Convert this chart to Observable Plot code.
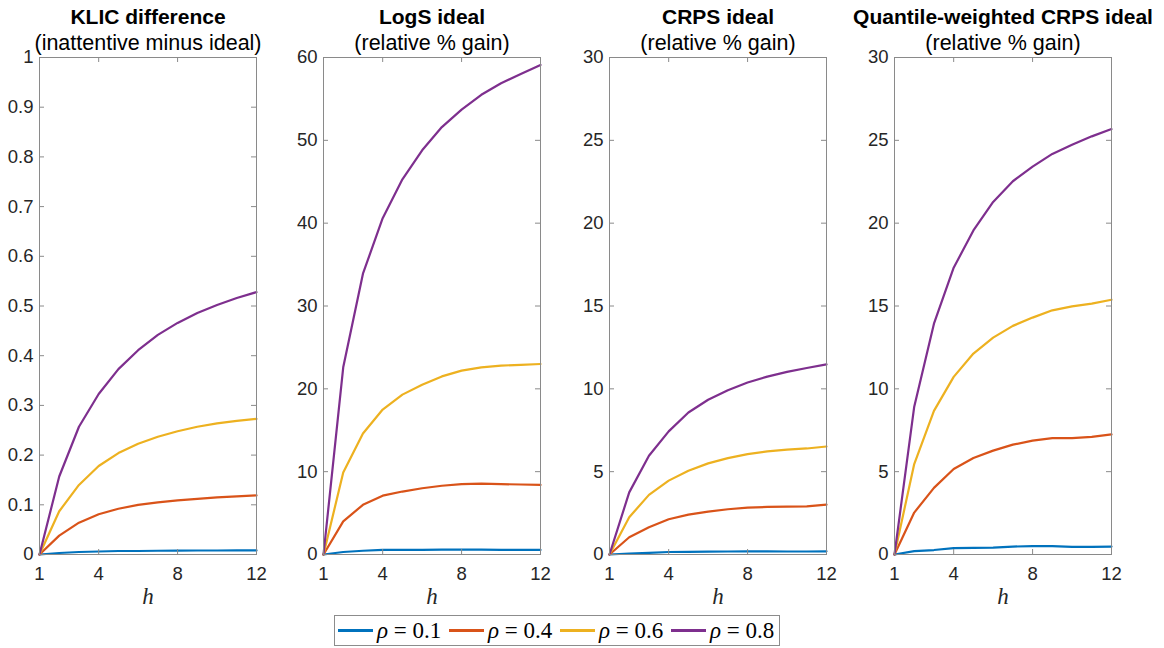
<!DOCTYPE html>
<html><head><meta charset="utf-8">
<script src="https://cdn.jsdelivr.net/npm/d3@7"></script>
<script src="https://cdn.jsdelivr.net/npm/@observablehq/plot@0.6"></script>
<style>
body{margin:0;background:#fff;}
#wrap{position:relative;width:1164px;height:648px;overflow:hidden;background:#fff;}
.panel{position:absolute;top:0;}
#legend{position:absolute;left:334px;top:615px;width:446px;height:31px;border:1px solid #8c8c8c;box-sizing:border-box;display:flex;align-items:center;font-family:"Liberation Serif",serif;font-size:23px;color:#000;background:#fff;white-space:nowrap;}
.sw{display:inline-block;width:35px;height:2.5px;margin-left:6px;margin-right:4px;}
.sw:first-child{margin-left:3px;}
.lt{display:inline-block;width:66px;}
.it{font-style:italic;}
</style></head>
<body><div id="wrap"></div>
<script>
const h = [1,2,3,4,5,6,7,8,9,10,11,12];
const xTicks = [1,4,8,12];
const rhoLabels = ["0.1","0.4","0.6","0.8"];
const colors = ["#0072BD","#D95319","#EDB120","#7E2F8E"];

const titles = ["KLIC difference","LogS ideal","CRPS ideal","Quantile-weighted CRPS ideal"];
const subtitles = ["(inattentive minus ideal)","(relative % gain)","(relative % gain)","(relative % gain)"];
const yMax = [1,60,30,30];
const yTicksKlic = [0,0.1,0.2,0.3,0.4,0.5,0.6,0.7,0.8,0.9,1];
const yTicksLogs = [0,10,20,30,40,50,60];
const yTicksCrps = [0,5,10,15,20,25,30];
const yTicksQw = [0,5,10,15,20,25,30];

// KLIC difference
const klic01 = [0,0.003,0.005,0.006,0.007,0.007,0.0075,0.0078,0.008,0.008,0.0082,0.0083];
const klic04 = [0,0.038,0.064,0.081,0.092,0.100,0.105,0.109,0.112,0.115,0.117,0.119];
const klic06 = [0,0.087,0.140,0.178,0.204,0.223,0.237,0.248,0.257,0.264,0.269,0.273];
const klic08 = [0,0.157,0.257,0.323,0.373,0.411,0.442,0.466,0.486,0.502,0.516,0.528];
// LogS ideal
const logs01 = [0,0.3,0.45,0.55,0.55,0.55,0.6,0.6,0.6,0.55,0.55,0.55];
const logs04 = [0,4.0,6.0,7.1,7.6,8.0,8.3,8.5,8.55,8.5,8.45,8.4];
const logs06 = [0,9.9,14.6,17.5,19.3,20.5,21.5,22.2,22.6,22.8,22.9,23.0];
const logs08 = [0,22.6,33.9,40.6,45.3,48.8,51.6,53.7,55.5,56.9,58.0,59.1];
// CRPS ideal
const crps01 = [0,0.06,0.1,0.15,0.16,0.17,0.18,0.19,0.19,0.18,0.18,0.19];
const crps04 = [0,1.04,1.65,2.13,2.41,2.59,2.73,2.83,2.87,2.89,2.91,3.01];
const crps06 = [0,2.25,3.6,4.46,5.06,5.5,5.82,6.06,6.22,6.33,6.4,6.52];
const crps08 = [0,3.75,5.96,7.43,8.57,9.34,9.92,10.38,10.74,11.02,11.26,11.48];
// Quantile-weighted CRPS ideal
const qw01 = [0,0.2,0.27,0.38,0.4,0.42,0.48,0.5,0.5,0.46,0.46,0.48];
const qw04 = [0,2.53,4.02,5.16,5.82,6.27,6.63,6.87,7.03,7.03,7.1,7.25];
const qw06 = [0,5.46,8.67,10.72,12.13,13.09,13.8,14.3,14.74,14.98,15.14,15.38];
const qw08 = [0,8.92,13.93,17.31,19.56,21.28,22.53,23.41,24.18,24.74,25.24,25.68];

const panels = [
  {series:[klic01,klic04,klic06,klic08], yTicks:yTicksKlic},
  {series:[logs01,logs04,logs06,logs08], yTicks:yTicksLogs},
  {series:[crps01,crps04,crps06,crps08], yTicks:yTicksCrps},
  {series:[qw01,qw04,qw06,qw08], yTicks:yTicksQw}
];
const lefts = [0,284,570,855];
const FW = 217, ML = 39, MR = 45, MT = 57, MB = 94, H = 648;
const FH = H - MT - MB;
const axisCol = "#8a8a8a";

const wrap = document.getElementById("wrap");
panels.forEach((p, i) => {
  const rows = [];
  p.series.forEach((s, k) => s.forEach((v, j) => rows.push({h: h[j], v, rho: rhoLabels[k]})));
  const inner = p.yTicks.filter(t => t > 0 && t < yMax[i]);
  const innerX = xTicks.filter(t => t > 1 && t < 12);
  const chart = Plot.plot({
    width: ML + FW + MR, height: H,
    marginLeft: ML, marginRight: MR, marginTop: MT, marginBottom: MB,
    style: {background: "transparent", fontFamily: "'Liberation Sans', Arial, sans-serif", fontSize: "18.5px", color: "#262626", overflow: "visible"},
    x: {domain: [1, 12]},
    y: {domain: [0, yMax[i]]},
    color: {domain: rhoLabels, range: colors},
    marks: [
      Plot.line(rows, {x: "h", y: "v", z: "rho", stroke: "rho", strokeWidth: 2.2}),
      Plot.frame({stroke: axisCol, strokeWidth: 1}),
      Plot.tickY(inner, {y: d => d, stroke: axisCol, insetRight: FW - 5}),
      Plot.tickY(inner, {y: d => d, stroke: axisCol, insetLeft: FW - 5}),
      Plot.tickX(innerX, {x: d => d, stroke: axisCol, insetTop: FH - 5}),
      Plot.tickX(innerX, {x: d => d, stroke: axisCol, insetBottom: FH - 5}),
      Plot.axisX({ticks: xTicks, tickSize: 0, tickPadding: 12, label: null, tickFormat: d => String(d)}),
      Plot.axisY({ticks: p.yTicks, tickSize: 0, tickPadding: 6, label: null, tickFormat: d => String(d)}),
      Plot.text([titles[i]], {frameAnchor: "top", lineAnchor: "bottom", dy: -34, fontWeight: "bold", fontSize: 21, fill: "black"}),
      Plot.text([subtitles[i]], {frameAnchor: "top", lineAnchor: "bottom", dy: -8, fontSize: 21.5, fill: "black"}),
      Plot.text(["h"], {frameAnchor: "bottom", lineAnchor: "bottom", dy: 49, fontSize: 23, fontStyle: "italic", fontFamily: "'Liberation Serif', serif", fill: "#262626"})
    ]
  });
  chart.classList.add("panel");
  chart.style.left = lefts[i] + "px";
  wrap.appendChild(chart);
});

const legend = document.createElement("div");
legend.id = "legend";
rhoLabels.forEach((r, k) => {
  const sw = document.createElement("span");
  sw.className = "sw";
  sw.style.background = colors[k];
  legend.appendChild(sw);
  const t = document.createElement("span");
  t.className = "lt";
  t.innerHTML = '<span class="it">ρ</span> = ' + r;
  legend.appendChild(t);
});
wrap.appendChild(legend);
</script>
</body></html>
